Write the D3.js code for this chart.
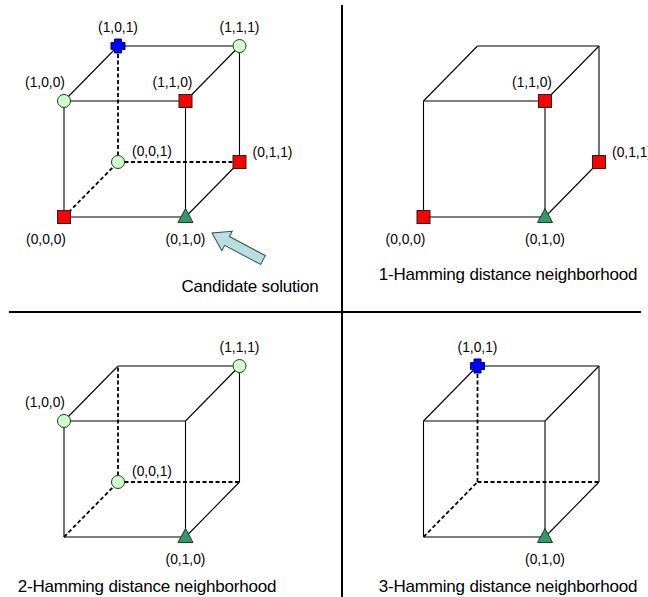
<!DOCTYPE html>
<html>
<head>
<meta charset="utf-8">
<script src="https://cdn.jsdelivr.net/npm/d3@7"></script>
<style>
  body { margin: 0; background: #fff; }
  svg { display: block; font-family: "Liberation Sans", Arial, sans-serif; }
</style>
</head>
<body>
<svg id="chart"></svg>
<script>
const width = 648, height = 597;

// vertices as (a,b,c) bit triples, and their labels
const vertexBits = [[0,0,0],[0,0,1],[0,1,0],[0,1,1],[1,0,0],[1,0,1],[1,1,0],[1,1,1]];
const vertexLabels = ["(0,0,0)","(0,0,1)","(0,1,0)","(0,1,1)","(1,0,0)","(1,0,1)","(1,1,0)","(1,1,1)"];
// hamming distance of each vertex from the candidate (0,1,0)
const distances = [1, 2, 0, 1, 2, 3, 1, 2];

// cube edges (index pairs), hidden = behind the cube
const edges = [[0,2],[0,4],[2,6],[4,6],[4,5],[5,7],[6,7],[2,3],[3,7],[0,1],[1,5],[1,3]];
const hiddenEdges = [false,false,false,false,false,false,false,false,false,true,true,true];

const panelTitles = ["Candidate solution", "1-Hamming distance neighborhood",
  "2-Hamming distance neighborhood", "3-Hamming distance neighborhood"];
const panelDistances = [[0,1,2,3],[0,1],[0,2],[0,3]];
const panelShowHidden = [true, false, true, true];

// layout (not data)
const origins = [[64,217],[423.5,217],[64,537],[423.5,537]];
const titlePos = [[250,292],[508,280],[147,592],[508,592]];
const labelOffset = [[-18,27],[34,-6.5],[0,27],[33,-5],[-19,-14],[0,-14],[-13,-14],[0,-14]];

const bScale = d3.scaleLinear().domain([0,1]).range([0,121.5]);
const aScale = d3.scaleLinear().domain([0,1]).range([0,-116]);
const cxScale = d3.scaleLinear().domain([0,1]).range([0,54]);
const cyScale = d3.scaleLinear().domain([0,1]).range([0,-55]);

const svg = d3.select("#chart").attr("width", width).attr("height", height);

function pos(o, v) {
  const [a, b, c] = vertexBits[v];
  return [o[0] + bScale(b) + cxScale(c), o[1] + aScale(a) + cyScale(c)];
}

function crossPath(s, w) {
  const h = s / 2, k = w / 2;
  return `M${-k},${-h}H${k}V${-k}H${h}V${k}H${k}V${h}H${-k}V${k}H${-h}V${-k}H${-k}Z`;
}

function drawMarker(g, d, p) {
  if (d === 0) {
    g.append("path")
      .attr("d", "M0,-8.5L7.5,5.5L-7.5,5.5Z")
      .attr("transform", `translate(${p[0]},${p[1]})`)
      .attr("fill", "#339966").attr("stroke", "#1a3a2a").attr("stroke-width", 1);
  } else if (d === 1) {
    g.append("rect")
      .attr("x", p[0] - 6.5).attr("y", p[1] - 6.5)
      .attr("width", 13).attr("height", 13)
      .attr("fill", "#ff0000").attr("stroke", "#222").attr("stroke-width", 1);
  } else if (d === 2) {
    g.append("circle")
      .attr("cx", p[0]).attr("cy", p[1]).attr("r", 6.5)
      .attr("fill", "#ccffcc").attr("stroke", "#333").attr("stroke-width", 1);
  } else {
    g.append("path")
      .attr("d", crossPath(14, 7))
      .attr("transform", `translate(${p[0]},${p[1]})`)
      .attr("fill", "#0000ff").attr("stroke", "#000066").attr("stroke-width", 1)
      .attr("stroke-linejoin", "round");
  }
}

panelTitles.forEach((title, pi) => {
  const o = origins[pi];
  const g = svg.append("g").attr("class", "panel");

  edges.forEach((e, i) => {
    if (hiddenEdges[i] && !panelShowHidden[pi]) return;
    const p1 = pos(o, e[0]), p2 = pos(o, e[1]);
    g.append("line")
      .attr("x1", p1[0]).attr("y1", p1[1]).attr("x2", p2[0]).attr("y2", p2[1])
      .attr("stroke", "#000")
      .attr("stroke-width", hiddenEdges[i] ? 1.8 : 1.1)
      .attr("stroke-dasharray", hiddenEdges[i] ? "4,2.5" : null);
  });

  vertexBits.forEach((v, i) => {
    if (!panelDistances[pi].includes(distances[i])) return;
    const p = pos(o, i);
    drawMarker(g, distances[i], p);
    g.append("text")
      .attr("x", p[0] + labelOffset[i][0])
      .attr("y", p[1] + labelOffset[i][1])
      .attr("text-anchor", "middle")
      .style("font-size", "13.8px")
      .text(vertexLabels[i]);
  });

  g.append("text")
    .attr("x", titlePos[pi][0]).attr("y", titlePos[pi][1])
    .attr("text-anchor", "middle")
    .style("font-size", "17px")
    .style("letter-spacing", "-0.2px")
    .text(title);
});

// arrow pointing at the candidate
const tip = [212, 233], tail = [263, 260];
const ang = Math.atan2(tip[1] - tail[1], tip[0] - tail[0]);
const len = Math.hypot(tip[0] - tail[0], tip[1] - tail[1]);
const headLen = 17, headW = 11, shaftW = 5;
const arrowPts = [[0,-shaftW],[len-headLen,-shaftW],[len-headLen,-headW],[len,0],
  [len-headLen,headW],[len-headLen,shaftW],[0,shaftW]];
svg.append("path")
  .attr("d", d3.line()(arrowPts) + "Z")
  .attr("transform", `translate(${tail[0]},${tail[1]}) rotate(${ang * 180 / Math.PI})`)
  .attr("fill", "#b8dfe0").attr("stroke", "#2f4f4f").attr("stroke-width", 1);

// dividers
svg.append("line").attr("x1", 9).attr("x2", 641).attr("y1", 312).attr("y2", 312)
  .attr("stroke", "#000").attr("stroke-width", 2);
svg.append("line").attr("x1", 342).attr("x2", 342).attr("y1", 5).attr("y2", 597)
  .attr("stroke", "#000").attr("stroke-width", 2);
</script>
</body>
</html>
